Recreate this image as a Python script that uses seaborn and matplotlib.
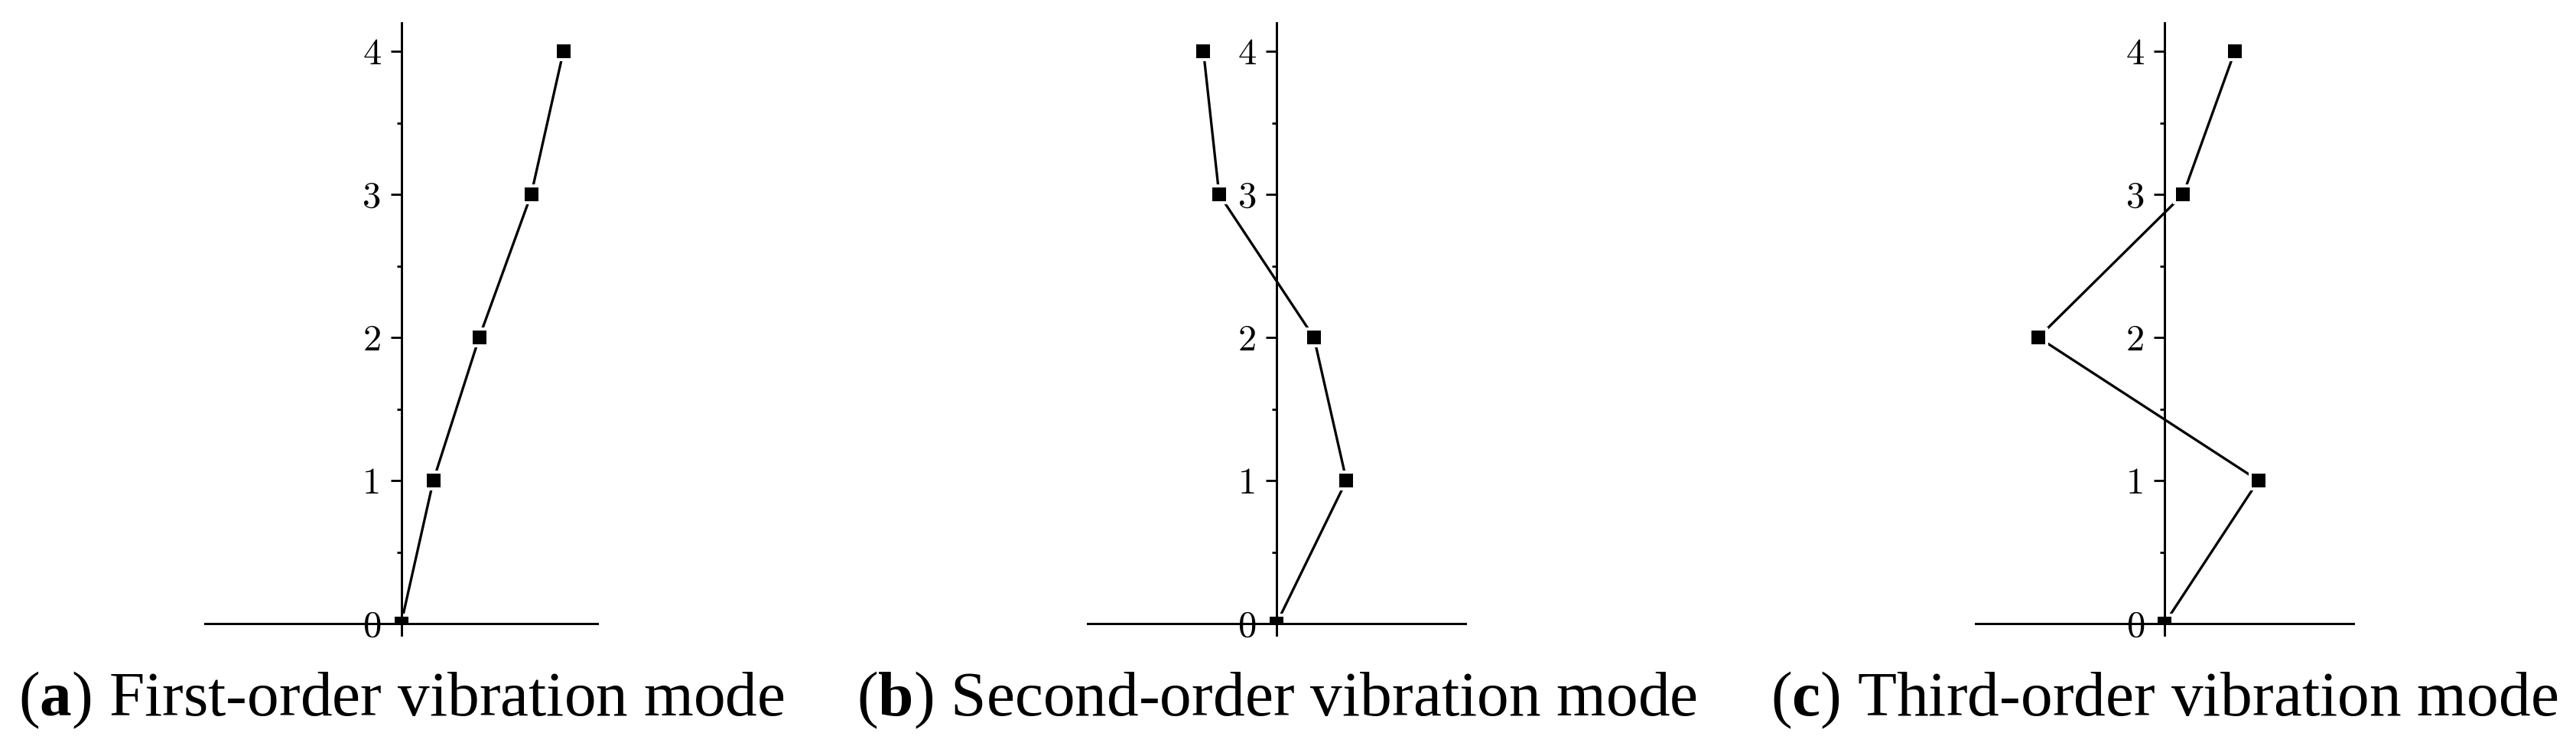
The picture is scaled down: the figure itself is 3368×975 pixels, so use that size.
import matplotlib
matplotlib.use("Agg")
import matplotlib.pyplot as plt
import seaborn as sns
import numpy as np

# ---- data -------------------------------------------------------------
storeys = [0, 1, 2, 3, 4]
mode_first = [0.0, 0.164, 0.398, 0.663, 0.827]
mode_second = [0.0, 0.370, 0.198, -0.304, -0.387]
mode_third = [0.0, 0.497, -0.668, 0.099, 0.372]
modes = [mode_first, mode_second, mode_third]
panel_letters = ["a", "b", "c"]
panel_titles = ["First-order vibration mode",
                "Second-order vibration mode",
                "Third-order vibration mode"]
ytick_major = [0, 1, 2, 3, 4]
ytick_labels = ["0", "1", "2", "3", "4"]
ytick_minor = [0.5, 1.5, 2.5, 3.5]

# ---- style ------------------------------------------------------------
sns.set_style("white")
plt.rcParams["font.family"] = ["Liberation Serif", "DejaVu Serif"]
plt.rcParams["mathtext.fontset"] = "custom"
plt.rcParams["mathtext.rm"] = "Liberation Serif"
plt.rcParams["mathtext.bf"] = "Liberation Serif:bold"
plt.rcParams["text.color"] = "black"
plt.rcParams["ytick.color"] = "black"
plt.rcParams["xtick.color"] = "black"
plt.rcParams["axes.labelcolor"] = "black"

W, H, DPI = 3368, 975, 100
fig = plt.figure(figsize=(W / DPI, H / DPI), dpi=DPI)
PX = 72 / DPI  # points per pixel

# panel horizontal extents (pixels) of x-axis line
extents = [(268, 781), (1422, 1916), (2583, 3077)]
y0_px = 815
unit_px = 187
ytop = 4.2

for i, (L, R) in enumerate(extents):
    left = L / W
    width = (R - L) / W
    bottom = 1 - y0_px / H
    height = ytop * unit_px / H
    ax = fig.add_axes([left, bottom, width, height])
    sns.lineplot(x=modes[i], y=storeys, sort=False, estimator=None, ax=ax,
                 color="black", linewidth=3.3 * PX, marker="s",
                 markersize=22 * PX, markerfacecolor="black",
                 markeredgecolor="white", markeredgewidth=4 * PX)
    ax.set_xlim(-1, 1)
    ax.set_ylim(0, ytop)
    ax.set_xlabel("")
    ax.set_ylabel("")
    ax.set_facecolor("none")
    for s in ["top", "right"]:
        ax.spines[s].set_visible(False)
    ax.spines["left"].set_position(("data", 0))
    ax.spines["left"].set_bounds(-0.08, ytop)
    ax.spines["bottom"].set_position(("data", 0))
    for s in ["left", "bottom"]:
        ax.spines[s].set_linewidth(3 * PX)
        ax.spines[s].set_color("black")
        ax.spines[s].set_zorder(3)
    ax.set_xticks([])
    ax.set_yticks(ytick_major)
    ax.set_yticklabels(ytick_labels)
    ax.set_yticks(ytick_minor, minor=True)
    ax.tick_params(axis="y", which="major", direction="out", length=14 * PX,
                   width=2.8 * PX, pad=12 * PX, labelsize=35,
                   labelfontfamily="cmr10", color="black",
                   labelcolor="black", left=True)
    ax.tick_params(axis="y", which="minor", direction="out", length=6 * PX,
                   width=2.8 * PX, color="black", left=True)
    ax.grid(False)

    cx = (L + R) / 2 / W
    fig.text(cx, 1 - 935 / H,
             r"($\mathbf{%s}$) %s" % (panel_letters[i], panel_titles[i]),
             ha="center", va="baseline", fontsize=60, color="black",
             fontfamily="Liberation Serif")

fig.savefig("out.png", dpi=DPI, facecolor="white")
